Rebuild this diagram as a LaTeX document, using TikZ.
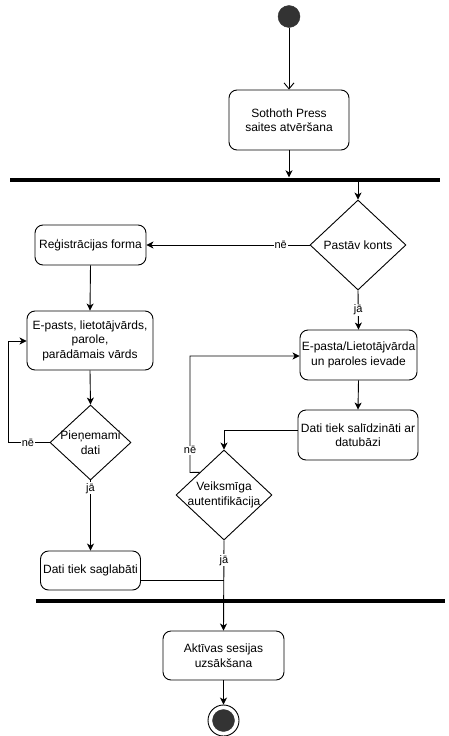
\documentclass[tikz,border=0pt]{standalone}
\usepackage{fontspec}
\setmainfont{Liberation Sans}
\usetikzlibrary{shapes.geometric,arrows.meta,calc}
\begin{document}
\begin{tikzpicture}[x=1pt,y=-1pt,
  every node/.style={font=\fontsize{12}{14.5}\selectfont},
  act/.style={draw=black,line width=0.9pt,rounded corners=8pt,fill=white,align=center,inner sep=1pt},
  dia/.style={draw=black,line width=0.9pt,shape=diamond,inner sep=0pt,minimum width=96pt,minimum height=90pt,fill=white},
  bartxt/.style={align=center,inner sep=0pt},
  syncbar/.style={fill=black,draw=none,minimum height=4pt,inner sep=0pt},
  conn/.style={line width=0.9pt,-{Stealth[length=7pt,width=7pt,inset=2pt]}},
  plain/.style={line width=0.9pt},
  lbl/.style={fill=white,inner sep=1pt,font=\fontsize{11}{13}\selectfont}
]
\useasboundingbox (0,0) rectangle (448,736);

% start
\node[circle,fill=black!80,draw=black!80,minimum size=22pt,inner sep=0pt] (start) at (289,16.5) {};
\node[act,minimum width=120pt,minimum height=60pt] (open) at (289,120) {Sothoth Press\\saites atvēršana};
\node[syncbar,minimum width=430pt] (bar1) at (225,179.5) {};

\node[dia] (konts) at (358,245) {};
\node[bartxt] (kontst) at (konts) {Pastāv konts};

\node[act,minimum width=111pt,minimum height=40pt] (reg) at (90.5,245) {Reģistrācijas forma};
\node[act,minimum width=126pt,minimum height=59pt] (epasts) at (90,340.5) {E-pasts, lietotājvārds,\\parole,\\parādāmais vārds};
\node[dia,minimum width=81pt,minimum height=75pt] (pienem) at (90.5,442.5) {};
\node[bartxt] (pienemt) at (pienem) {Pieņemami\\dati};
\node[act,minimum width=100pt,minimum height=39pt] (saglab) at (90.5,570.5) {Dati tiek saglabāti};

\node[act,minimum width=117pt,minimum height=50pt] (ievade) at (358.5,355) {E-pasta/Lietotājvārda\\un paroles ievade};
\node[act,minimum width=120pt,minimum height=50pt] (salidz) at (358,435) {Dati tiek salīdzināti ar\\datubāzi};
\node[dia] (veiks) at (224,495) {};
\node[bartxt] (veikst) at (veiks) {Veiksmīga\\autentifikācija};

\node[syncbar,minimum width=409pt] (bar2) at (240.5,600.5) {};
\node[act,minimum width=121pt,minimum height=49pt] (akt) at (223.5,655.5) {Aktīvas sesijas\\uzsākšana};

\node[circle,draw=black,line width=0.9pt,fill=white,minimum size=31pt,inner sep=0pt] (end) at (223.5,720.5) {};
\node[circle,fill=black!80,draw=black!80,minimum size=22pt,inner sep=0pt] (endin) at (end) {};

% connectors
\draw[plain,-{Straight Barb[length=6pt,width=10pt]}] (start) -- (open.north);
\draw[conn] (open.south) -- (open.south |- bar1.north);
\draw[conn] (bar1.south -| konts.north) -- (konts.north);
\draw[conn] (konts.west) -- node[lbl,pos=0.177] (ne1) {nē} (reg.east);
\draw[conn] (konts.south) -- node[lbl,pos=0.5] (ja1) {jā} (ievade.north);
\draw[conn] (reg.south) -- (epasts.north);
\draw[conn] (epasts.south) -- (pienem.north);
\coordinate (lp1) at (8,442.5);
\coordinate (lp2) at (8,341);
\draw[conn] (pienem.west) -- node[lbl,pos=0.52] (ne2) {nē} (lp1) -- (lp2) -- (epasts.west |- lp2);
\draw[conn] (pienem.south) -- node[lbl,pos=0.11] (ja2) {jā} (saglab.north);
\draw[conn] (ievade.south) -- (salidz.north);
\draw[conn] ([yshift=5pt]salidz.west) -| (veiks.north);
\coordinate (vn0) at ($(veiks.west)!0.5!(veiks.north)$);
\coordinate (vn1) at (190,472.5);
\coordinate (vn2) at (190,356);
\draw[conn] (vn0) -- (vn1) -- node[lbl,pos=0.19] (ne3) {nē} (vn2) -- (ievade.west |- vn2);
\coordinate (sj) at (223.5,580);
\draw[plain] ([yshift=-9.5pt]saglab.east) -- (sj);
\draw[conn] (veiks.south) -- node[lbl,pos=0.22] (ja3) {jā} (akt.north);
\draw[conn] (akt.south) -- (end.north);
\end{tikzpicture}
\end{document}
